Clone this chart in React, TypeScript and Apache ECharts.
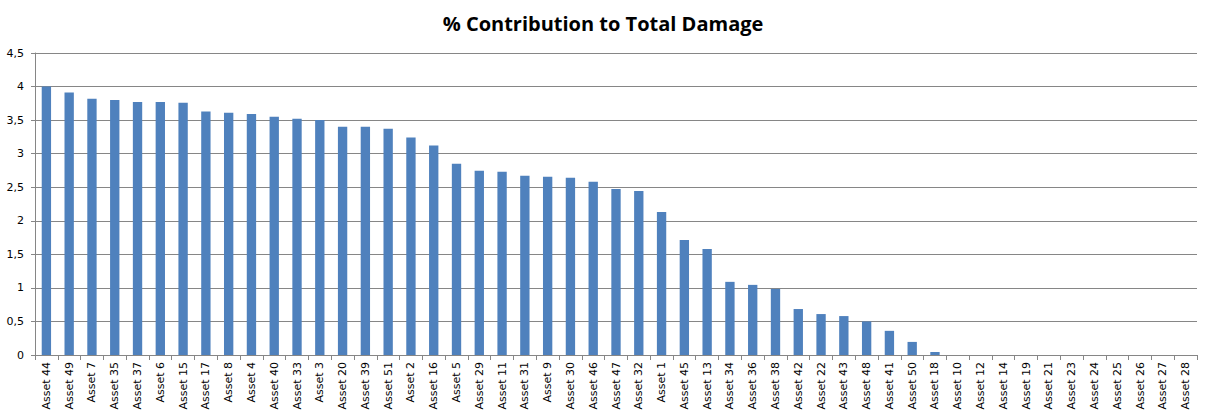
import React, { useEffect, useRef } from "react";
import * as echarts from "echarts";

const categories = [
  "Asset 44", "Asset 49", "Asset 7", "Asset 35", "Asset 37", "Asset 6", "Asset 15", "Asset 17", "Asset 8", "Asset 4",
  "Asset 40", "Asset 33", "Asset 3", "Asset 20", "Asset 39", "Asset 51", "Asset 2", "Asset 16", "Asset 5", "Asset 29",
  "Asset 11", "Asset 31", "Asset 9", "Asset 30", "Asset 46", "Asset 47", "Asset 32", "Asset 1", "Asset 45", "Asset 13",
  "Asset 34", "Asset 36", "Asset 38", "Asset 42", "Asset 22", "Asset 43", "Asset 48", "Asset 41", "Asset 50", "Asset 18",
  "Asset 10", "Asset 12", "Asset 14", "Asset 19", "Asset 21", "Asset 23", "Asset 24", "Asset 25", "Asset 26", "Asset 27",
  "Asset 28",
];

const contribution = [
  4.0, 3.91, 3.82, 3.8, 3.77, 3.77, 3.76, 3.63, 3.61, 3.59,
  3.55, 3.52, 3.5, 3.4, 3.4, 3.37, 3.24, 3.12, 2.85, 2.745,
  2.73, 2.67, 2.655, 2.64, 2.58, 2.475, 2.445, 2.13, 1.715, 1.58,
  1.09, 1.045, 0.985, 0.685, 0.61, 0.58, 0.5, 0.36, 0.195, 0.045,
  0, 0, 0, 0, 0, 0, 0, 0, 0, 0,
  0,
];

const titleText = "% Contribution to Total Damage";

export default function App() {
  const ref = useRef<HTMLDivElement>(null);
  useEffect(() => {
    document.body.style.margin = "0";
    const chart = echarts.init(ref.current!, undefined, { renderer: "svg" });
    chart.setOption({
      animation: false,
      backgroundColor: "#ffffff",
      title: {
        text: titleText,
        left: "center",
        top: 8,
        textStyle: {
          fontFamily: "Open Sans",
          fontWeight: "bold",
          fontSize: 20,
          color: "#000000",
        },
      },
      grid: { left: 35, right: 9, top: 53, bottom: 60, containLabel: false },
      xAxis: {
        type: "category",
        data: categories,
        boundaryGap: true,
        axisLine: { lineStyle: { color: "#868686", width: 1 } },
        axisTick: { show: true, length: 5, lineStyle: { color: "#868686" } },
        axisLabel: {
          rotate: 90,
          interval: 0,
          margin: 7,
          fontFamily: "DejaVu Sans",
          fontSize: 11,
          color: "#000000",
        },
      },
      yAxis: {
        type: "value",
        min: 0,
        max: 4.5,
        interval: 0.5,
        axisLine: { show: true, lineStyle: { color: "#868686", width: 1 } },
        axisTick: { show: true, length: 4, lineStyle: { color: "#868686" } },
        splitLine: { show: true, lineStyle: { color: "#868686", width: 1 } },
        axisLabel: {
          margin: 11,
          fontFamily: "DejaVu Sans",
          fontSize: 11,
          color: "#000000",
          formatter: (v: number) => String(v).replace(".", ","),
        },
      },
      series: [
        {
          type: "bar",
          data: contribution,
          barWidth: "41%",
          itemStyle: { color: "#4F81BD" },
        },
      ],
    });
    return () => chart.dispose();
  }, []);
  return <div ref={ref} style={{ width: 1206, height: 415 }} />;
}
